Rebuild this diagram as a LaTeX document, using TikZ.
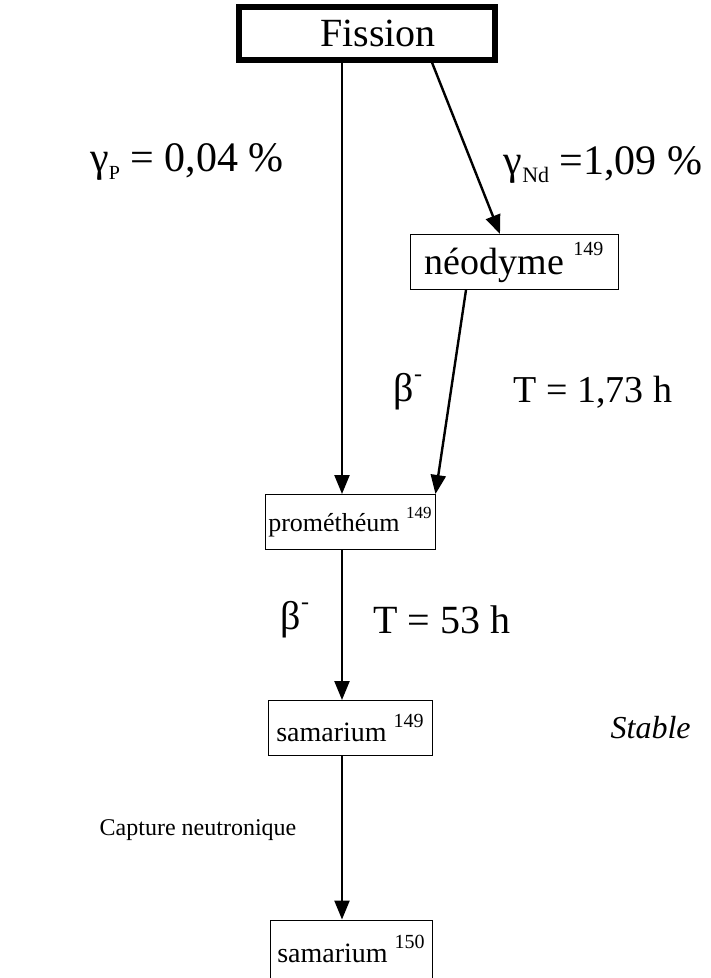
\documentclass[tikz,border=0pt]{standalone}
\usepackage{fontspec}
\setmainfont{Liberation Serif}
\usetikzlibrary{arrows.meta,positioning}

\newcommand{\sizept}[1]{\fontsize{#1}{#1}\selectfont}
\newcommand{\upnum}[2][20]{\raisebox{0.5em}{\sizept{#1}#2}}
\newcommand{\lownum}[2][20]{\raisebox{-0.2em}{\sizept{#1}#2}}

\begin{document}
\begin{tikzpicture}[x=1pt,y=-1pt,
  arr/.style={-{Triangle[length=19pt,width=15pt]},line width=2.4pt},
  box/.style={draw,line width=1pt,minimum height=55pt,inner sep=2pt},
  lbl/.style={inner sep=0pt,font=\sizept{40}}]
  \useasboundingbox (0,0) rectangle (711,978);
  % boxes
  \node[box,line width=6pt,minimum width=256pt,minimum height=53pt,font=\sizept{40}] (fis) at (367,33) {\hspace*{22pt}Fission};
  \node[box,minimum width=208pt,font=\sizept{38}] (neo) at (514,262) {néodyme \upnum{149}};
  \node[box,minimum width=170pt,font=\sizept{26}] (pro) at (350,522) {prométhéum \upnum[17]{149}};
  \node[box,minimum width=164pt,font=\sizept{28}] (sm1) at (350,728) {samarium \upnum{149}};
  \node[box,minimum width=162pt,minimum height=58pt,font=\sizept{28}] (sm2) at (351,949) {samarium \upnum{150}};
  \coordinate (trunk) at (342,0);
  % arrows
  \draw[arr] (fis.south -| trunk) -- (pro.north -| trunk);
  \draw[arr] ([xshift=65pt]fis.south) -- ([xshift=-14pt]neo.north);
  \draw[arr] ([xshift=-48pt]neo.south) -- (pro.north east);
  \draw[arr] (pro.south -| trunk) -- (sm1.north -| trunk);
  \draw[arr] (sm1.south -| trunk) -- (sm2.north -| trunk);
  % labels
  \node[lbl,font=\sizept{42}] (gp) at (187,162) {γ\lownum{P} = 0,04 \%};
  \node[lbl,font=\sizept{42}] (gn) at (603,165) {γ\lownum[22]{Nd} =1,09 \%};
  \node[lbl] (b1) at (408,392) {β\upnum[24]{-}};
  \node[lbl,font=\sizept{38}] (t1) at (593,392) {T = 1,73 h};
  \node[lbl] (b2) at (295,620) {β\upnum[24]{-}};
  \node[lbl] (t2) at (442,620) {T = 53 h};
  \node[lbl,font=\sizept{32}\itshape,right=178pt of sm1] (st) {Stable};
  \node[lbl,font=\sizept{24}] (cap) at (198,830) {Capture neutronique};
\end{tikzpicture}
\end{document}
